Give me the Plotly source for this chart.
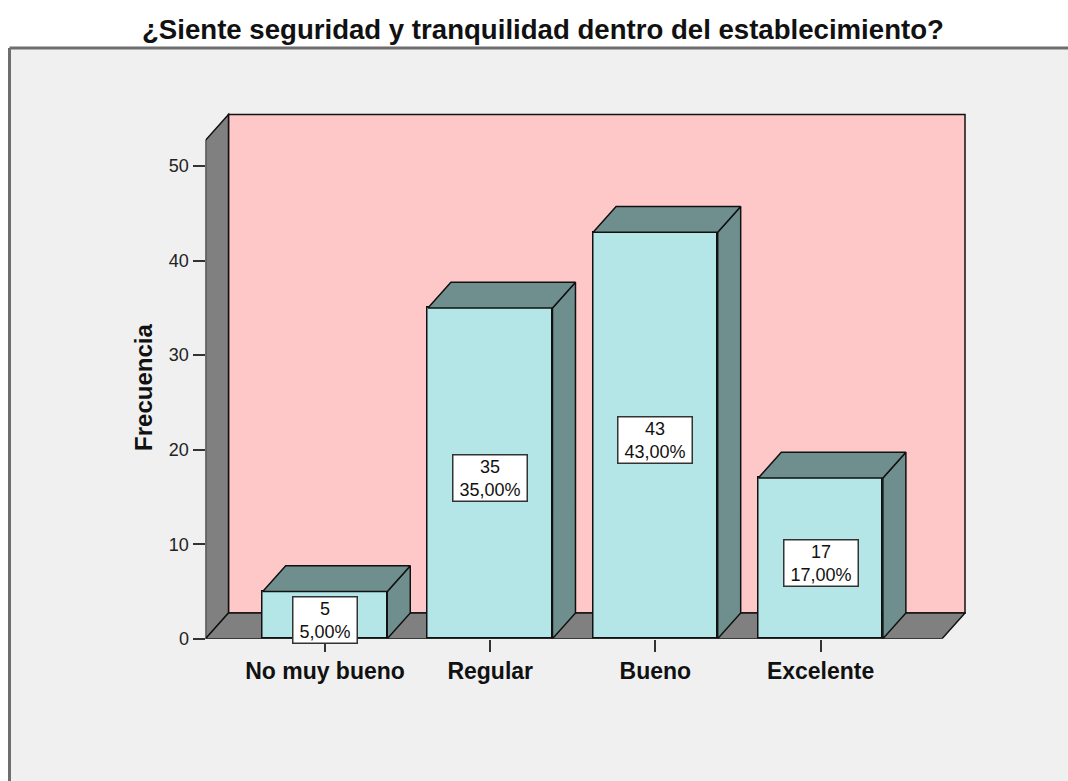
import plotly.graph_objects as go

# ---- data ----
categories = ["No muy bueno", "Regular", "Bueno", "Excelente"]
counts = [5, 35, 43, 17]
percents = ["5,00%", "35,00%", "43,00%", "17,00%"]
y_ticks = [0, 10, 20, 30, 40, 50]
title_text = "¿Siente seguridad y tranquilidad dentro del establecimiento?"
y_title = "Frecuencia"

# ---- geometry (pixel layout of the page) ----
W, H = 1068, 781
PX_PER_CAT = 165.2
PX_PER_UNIT = 9.575
AX_LEFT_PX = 205.5
AX_RIGHT_PX = 966.0
FLOOR_PX = 647.0
TOP_PX = 110.0
CAT0_PX = 325.0
DEPTH_DX_PX, DEPTH_DY_PX = 23.0, 26.0
FRONT_RIGHT_PX = 942.0
WALL_TOP_VAL = 52.74
FRAME_L, FRAME_T = 9.5, 48.5

x0 = (AX_LEFT_PX - CAT0_PX) / PX_PER_CAT
x1 = x0 + (AX_RIGHT_PX - AX_LEFT_PX) / PX_PER_CAT
xf = (FRONT_RIGHT_PX - CAT0_PX) / PX_PER_CAT
y1 = (FLOOR_PX - TOP_PX) / PX_PER_UNIT
ddx = DEPTH_DX_PX / PX_PER_CAT
ddy = DEPTH_DY_PX / PX_PER_UNIT
bw = 0.754
hw = bw / 2

FONT = "Liberation Sans, Arial, sans-serif"
C_BACK = "#ffc8c8"
C_WALL = "#808080"
C_FRONT = "#b4e6e8"
C_DARK = "#6f8f8f"

fig = go.Figure()

xs = list(range(len(categories)))

# bar tops and sides
for i, v in zip(xs, counts):
    fig.add_trace(go.Scatter(
        x=[i + hw, i + hw + ddx, i + hw + ddx, i + hw, i + hw],
        y=[0, ddy, v + ddy, v, 0],
        mode="lines", fill="toself", fillcolor=C_DARK,
        line=dict(color="#111111", width=1.5), hoverinfo="skip", showlegend=False))
    fig.add_trace(go.Scatter(
        x=[i - hw, i + hw, i + hw + ddx, i - hw + ddx, i - hw],
        y=[v, v, v + ddy, v + ddy, v],
        mode="lines", fill="toself", fillcolor=C_DARK,
        line=dict(color="#111111", width=1.5), hoverinfo="skip", showlegend=False))

# bar fronts
fig.add_trace(go.Bar(
    x=xs, y=counts, width=bw,
    marker=dict(color=C_FRONT, line=dict(color="#111111", width=1.5)),
    hoverinfo="skip", showlegend=False))

fy = 1 - FRAME_T / H
fx = FRAME_L / W
shapes = [
    dict(type="rect", xref="paper", yref="paper", x0=fx, x1=1.02, y0=-0.02, y1=fy,
         fillcolor="#f0f0f0", line=dict(width=0), layer="below"),
    dict(type="line", xref="paper", yref="paper", x0=fx, x1=1.02, y0=fy, y1=fy,
         line=dict(color="#6e6e6e", width=3), layer="below"),
    dict(type="line", xref="paper", yref="paper", x0=fx, x1=fx, y0=-0.02, y1=fy,
         line=dict(color="#6e6e6e", width=3), layer="below"),
    dict(type="rect", xref="x", yref="y",
         x0=x0 + ddx, x1=xf + ddx, y0=ddy, y1=WALL_TOP_VAL + ddy,
         fillcolor=C_BACK, line=dict(color="#111111", width=1.5), layer="below"),
    dict(type="path", xref="x", yref="y",
         path=f"M {x0},0 L {x0},{WALL_TOP_VAL} L {x0+ddx},{WALL_TOP_VAL+ddy} L {x0+ddx},{ddy} Z",
         fillcolor=C_WALL, line=dict(color="#111111", width=1.5), layer="below"),
    dict(type="path", xref="x", yref="y",
         path=f"M {x0},0 L {xf},0 L {xf+ddx},{ddy} L {x0+ddx},{ddy} Z",
         fillcolor=C_WALL, line=dict(color="#111111", width=1.5), layer="below"),
]

annotations = []
for i, v, p in zip(xs, counts, percents):
    annotations.append(dict(
        x=i, y=v / 2, xref="x", yref="y",
        text=f"&nbsp;{v}&nbsp;<br>&nbsp;{p}&nbsp;", yshift=-5,
        showarrow=False, font=dict(family=FONT, size=18, color="#111111"),
        bgcolor="white", bordercolor="#333333", borderwidth=1.5, borderpad=1,
        align="center"))

annotations.append(dict(
    x=543 / W, y=1 - 30 / H, xref="paper", yref="paper",
    text=f"<b>{title_text}</b>", showarrow=False,
    font=dict(family=FONT, size=27.6, color="#111111"),
    xanchor="center", yanchor="middle"))
annotations.append(dict(
    x=144 / W, y=1 - 393 / H, xref="paper", yref="paper",
    text=f"<b>{y_title}</b>", showarrow=False, textangle=-90,
    font=dict(family=FONT, size=24, color="#111111"),
    xanchor="center", yanchor="middle"))

fig.update_layout(
    width=W, height=H, autosize=False,
    margin=dict(l=0, r=0, t=0, b=0),
    paper_bgcolor="white", plot_bgcolor="rgba(0,0,0,0)",
    shapes=shapes, annotations=annotations, bargap=0,
    xaxis=dict(domain=[AX_LEFT_PX / W, AX_RIGHT_PX / W], range=[x0, x1],
               tickvals=xs, ticktext=[f"<b>{c}</b>" for c in categories],
               ticks="outside", ticklen=12, tickwidth=1.5, tickcolor="#333333",
               showgrid=False, zeroline=False, showline=False,
               tickfont=dict(family=FONT, size=23, color="#111111")),
    yaxis=dict(domain=[(H - FLOOR_PX) / H, (H - TOP_PX) / H], range=[0, y1],
               tickvals=y_ticks, ticks="outside", ticklen=12, tickwidth=1.5,
               tickcolor="#333333", showgrid=False, zeroline=False, showline=False,
               tickfont=dict(family=FONT, size=18, color="#222222")),
)

fig.write_html(
    "out.html",
    config={"displayModeBar": False, "responsive": False},
    post_script=("document.documentElement.style.margin='0';"
                 "document.documentElement.style.overflow='hidden';"
                 "document.body.style.margin='0';"
                 "document.body.style.overflow='hidden';"),
)
